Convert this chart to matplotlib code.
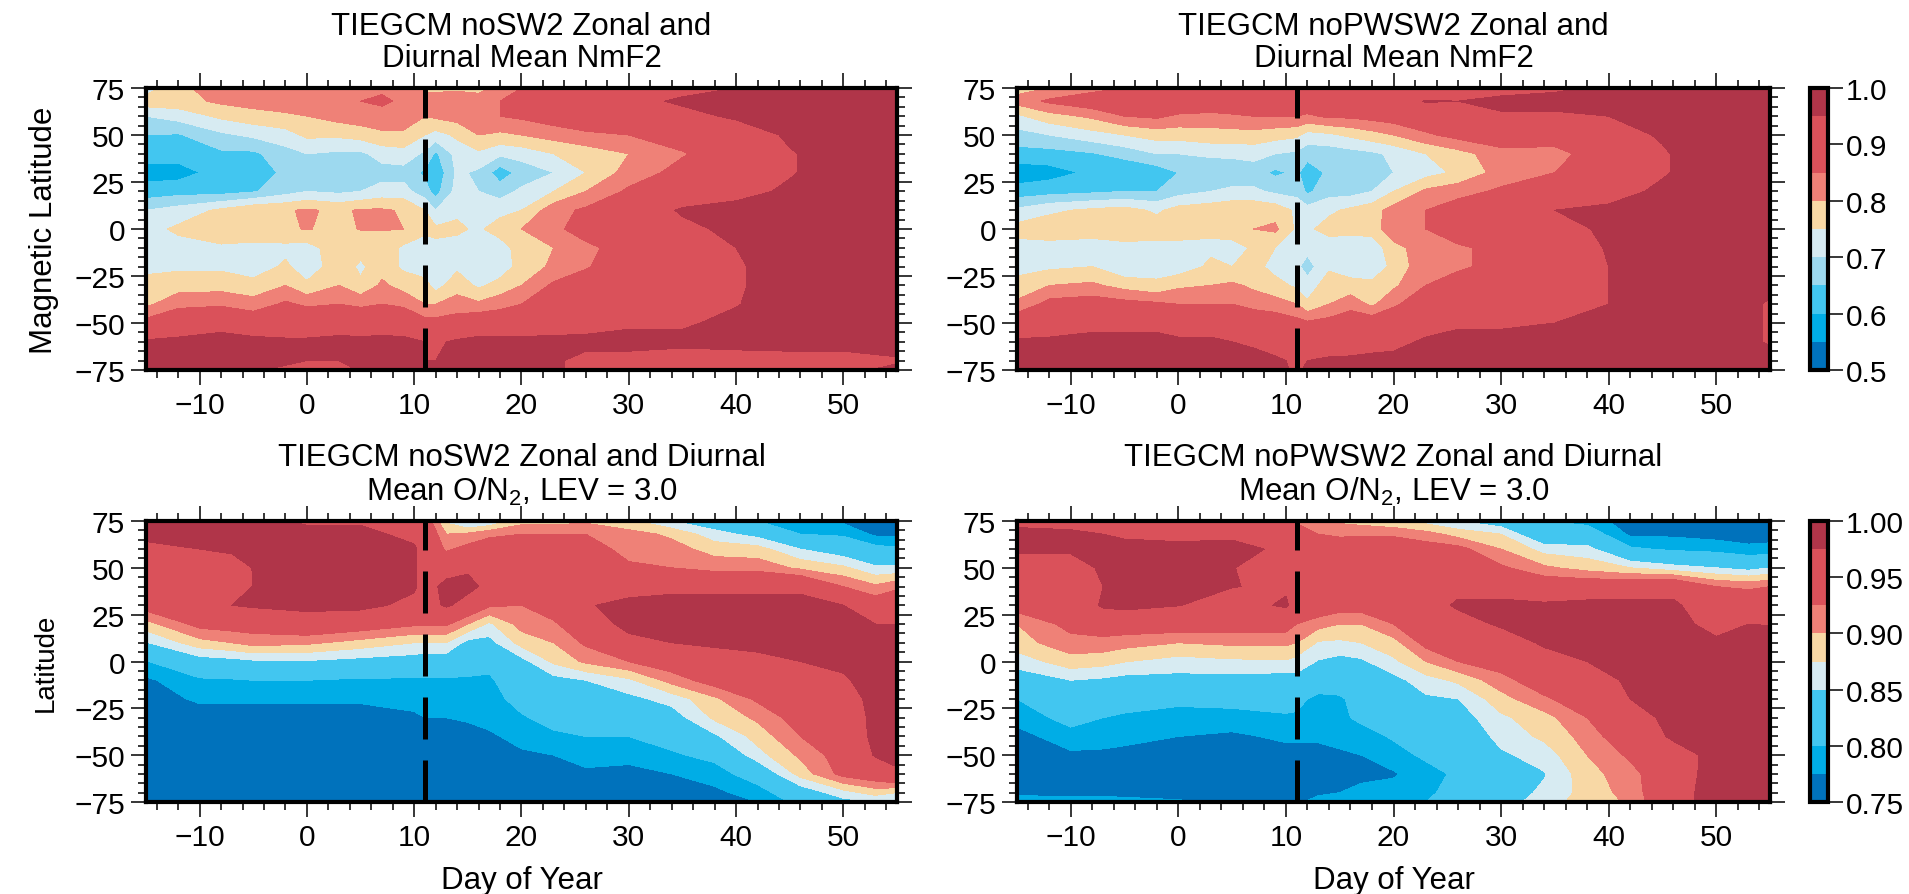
import numpy as np
import matplotlib
matplotlib.use('Agg')
import matplotlib.pyplot as plt
from matplotlib.ticker import MultipleLocator

plt.rcParams['font.family'] = ['Liberation Sans', 'DejaVu Sans']
plt.rcParams['mathtext.default'] = 'regular'

W, H = 1909, 895

lats = [75, 68, 60, 50, 40, 30, 20, 10, 0, -10, -20, -30, -40, -50, -60, -70, -75]
top_days = [-15, -12, -8, -5, -2, 0, 3, 5, 7, 9, 11, 12, 14, 16, 18, 20, 23, 26, 30, 35, 40, 45, 50, 55]
bot_days = [-15, -10, -7, -5, 0, 5, 10, 11, 13, 15, 17, 20, 23, 26, 30, 34, 38, 42, 46, 50, 53, 55]

# one list per day, running from 75N down to 75S
nmf2_nosw2 = [
    [.72, .78, .70, .65, .62, .58, .62, .70, .73, .72, .735, .77, .79, .87, .96, .97, .97],
    [.79, .78, .72, .645, .62, .58, .63, .72, .76, .73, .74, .78, .83, .92, .96, .97, .97],
    [.82, .81, .76, .69, .64, .62, .63, .76, .79, .74, .74, .78, .84, .93, .97, .97, .97],
    [.82, .82, .78, .71, .64, .61, .645, .79, .795, .73, .72, .77, .82, .90, .97, .97, .96],
    [.83, .83, .79, .73, .68, .665, .68, .795, .795, .735, .76, .80, .86, .91, .96, .97, .93],
    [.84, .83, .80, .76, .70, .67, .70, .806, .802, .73, .72, .76, .84, .91, .96, .95, .92],
    [.85, .84, .82, .76, .69, .67, .69, .79, .79, .78, .78, .80, .85, .91, .97, .95, .91],
    [.85, .85, .83, .77, .69, .67, .70, .806, .802, .77, .74, .76, .84, .90, .97, .96, .96],
    [.84, .86, .83, .79, .72, .68, .72, .806, .802, .78, .78, .81, .85, .91, .97, .97, .97],
    [.82, .84, .83, .79, .73, .68, .72, .795, .80, .74, .74, .78, .84, .90, .97, .97, .97],
    [.79, .82, .80, .75, .69, .64, .67, .75, .76, .73, .72, .77, .80, .87, .95, .95, .96],
    [.79, .82, .81, .73, .64, .61, .63, .70, .76, .74, .72, .73, .80, .87, .94, .95, .96],
    [.79, .83, .82, .76, .72, .71, .72, .74, .76, .73, .74, .78, .82, .88, .96, .97, .97],
    [.78, .83, .84, .80, .74, .69, .70, .74, .74, .71, .71, .74, .81, .90, .97, .97, .97],
    [.82, .85, .85, .79, .71, .62, .68, .73, .78, .72, .72, .77, .83, .90, .97, .97, .97],
    [.85, .87, .86, .80, .72, .67, .71, .75, .80, .78, .77, .80, .85, .90, .97, .97, .97],
    [.87, .89, .88, .82, .75, .70, .75, .83, .84, .80, .81, .86, .88, .91, .97, .96, .96],
    [.90, .91, .89, .84, .77, .75, .80, .86, .87, .84, .845, .88, .89, .92, .97, .93, .93],
    [.92, .93, .92, .85, .80, .82, .86, .89, .90, .87, .89, .90, .91, .94, .97, .93, .93],
    [.93, .96, .93, .88, .845, .87, .89, .96, .93, .91, .91, .91, .92, .945, .96, .93, .93],
    [.95, .97, .96, .91, .89, .90, .93, .97, .97, .95, .945, .945, .948, .96, .965, .93, .93],
    [.97, .98, .97, .96, .945, .945, .96, .98, .98, .97, .97, .97, .97, .97, .97, .93, .93],
    [.98, .98, .98, .98, .98, .98, .98, .98, .98, .98, .98, .98, .98, .98, .97, .93, .94],
    [.98, .98, .98, .98, .98, .98, .98, .98, .98, .98, .98, .98, .98, .98, .97, .945, .96],
]

nmf2_nopwsw2 = [
    [.78, .82, .74, .68, .63, .57, .62, .71, .77, .73, .73, .77, .81, .90, .96, .97, .97],
    [.80, .86, .78, .70, .63, .58, .63, .74, .78, .73, .74, .80, .87, .92, .96, .97, .97],
    [.83, .89, .81, .73, .645, .61, .64, .76, .78, .72, .75, .81, .88, .93, .97, .97, .97],
    [.85, .90, .85, .75, .67, .60, .65, .77, .79, .73, .71, .78, .87, .93, .97, .97, .97],
    [.85, .90, .86, .77, .70, .62, .65, .74, .78, .73, .73, .76, .86, .93, .97, .97, .97],
    [.86, .91, .84, .77, .70, .65, .68, .77, .78, .73, .72, .79, .85, .92, .96, .97, .97],
    [.87, .91, .83, .78, .71, .66, .70, .78, .76, .74, .76, .80, .85, .92, .96, .97, .97],
    [.86, .91, .84, .78, .71, .67, .71, .79, .79, .72, .75, .81, .85, .91, .95, .97, .97],
    [.86, .91, .85, .78, .72, .67, .71, .79, .80, .76, .77, .79, .83, .90, .94, .97, .97],
    [.85, .90, .85, .77, .70, .64, .69, .78, .81, .75, .73, .77, .82, .89, .92, .96, .97],
    [.84, .90, .85, .76, .69, .66, .68, .74, .74, .71, .71, .74, .80, .87, .91, .94, .94],
    [.84, .90, .84, .73, .67, .62, .64, .72, .74, .715, .68, .72, .76, .86, .91, .95, .96],
    [.84, .90, .86, .74, .67, .66, .68, .74, .77, .72, .74, .78, .80, .87, .91, .96, .97],
    [.85, .90, .86, .76, .68, .66, .68, .76, .77, .71, .72, .77, .83, .89, .92, .96, .97],
    [.85, .90, .87, .78, .69, .67, .70, .78, .77, .72, .70, .77, .79, .89, .92, .97, .97],
    [.86, .91, .88, .80, .71, .70, .75, .82, .84, .78, .77, .79, .84, .90, .93, .97, .97],
    [.88, .955, .90, .84, .75, .73, .81, .85, .85, .83, .83, .85, .89, .92, .96, .97, .97],
    [.90, .95, .92, .87, .78, .76, .83, .88, .89, .84, .84, .88, .91, .945, .96, .97, .97],
    [.92, .97, .94, .89, .83, .82, .86, .90, .90, .87, .87, .90, .92, .94, .97, .97, .97],
    [.94, .97, .94, .90, .82, .85, .89, .95, .92, .91, .91, .91, .92, .95, .97, .97, .97],
    [.96, .97, .95, .93, .91, .91, .93, .96, .965, .955, .95, .95, .95, .96, .97, .97, .97],
    [.97, .98, .97, .955, .945, .945, .96, .97, .97, .97, .97, .97, .97, .97, .97, .97, .97],
    [.98, .98, .98, .98, .98, .98, .98, .98, .98, .98, .98, .98, .98, .98, .98, .98, .98],
    [.98, .98, .98, .98, .98, .98, .98, .98, .98, .98, .98, .96, .945, .945, .945, .97, .98],
]

on2_nosw2 = [
    [.985, .98, .97, .95, .95, .94, .89, .848, .798, .77, .76, .76, .76, .76, .76, .76, .76],
    [.985, .98, .975, .96, .955, .945, .935, .89, .835, .795, .78, .76, .76, .76, .76, .76, .76],
    [.985, .98, .98, .96, .955, .975, .94, .90, .84, .797, .78, .76, .76, .76, .76, .76, .76],
    [.985, .98, .985, .976, .976, .98, .94, .91, .845, .80, .78, .76, .76, .76, .76, .76, .76],
    [.97, .985, .985, .985, .985, .985, .955, .905, .847, .80, .78, .76, .76, .76, .76, .76, .76],
    [.97, .985, .985, .985, .985, .985, .945, .89, .84, .795, .78, .76, .76, .76, .76, .76, .76],
    [.96, .965, .98, .98, .98, .965, .93, .875, .835, .795, .785, .77, .76, .76, .76, .76, .76],
    [.95, .96, .96, .96, .96, .96, .93, .875, .83, .795, .785, .775, .76, .76, .76, .76, .76],
    [.87, .90, .92, .96, .985, .98, .93, .875, .83, .795, .785, .775, .76, .76, .76, .76, .76],
    [.84, .905, .935, .97, .985, .96, .90, .84, .82, .795, .787, .78, .76, .76, .76, .76, .76],
    [.85, .92, .94, .955, .965, .93, .87, .84, .81, .795, .79, .785, .77, .76, .76, .76, .76],
    [.89, .925, .94, .95, .96, .925, .91, .885, .84, .825, .81, .797, .785, .77, .76, .76, .76],
    [.89, .925, .94, .95, .95, .945, .92, .90, .88, .84, .825, .81, .795, .775, .765, .76, .76],
    [.895, .925, .94, .95, .96, .972, .955, .93, .905, .85, .83, .82, .80, .785, .77, .76, .76],
    [.88, .91, .915, .93, .96, .985, .985, .965, .925, .87, .842, .82, .80, .78, .77, .76, .76],
    [.85, .895, .91, .925, .968, .985, .985, .975, .945, .91, .86, .835, .815, .795, .775, .76, .76],
    [.83, .86, .89, .915, .968, .985, .985, .98, .96, .94, .895, .88, .845, .81, .785, .77, .76],
    [.80, .84, .885, .915, .968, .985, .985, .985, .965, .95, .93, .905, .885, .865, .82, .785, .775],
    [.785, .80, .85, .895, .968, .985, .985, .985, .975, .965, .95, .94, .925, .905, .885, .83, .81],
    [.77, .795, .83, .88, .925, .975, .98, .985, .98, .972, .96, .95, .945, .94, .935, .865, .84],
    [.76, .77, .81, .855, .905, .945, .975, .985, .985, .985, .985, .985, .985, .978, .95, .885, .85],
    [.76, .77, .805, .855, .92, .95, .975, .985, .985, .985, .985, .985, .985, .98, .972, .875, .85],
]

on2_nopwsw2 = [
    [.97, .98, .98, .96, .95, .94, .90, .89, .86, .835, .80, .785, .765, .76, .76, .77, .785],
    [.965, .98, .98, .96, .95, .945, .935, .915, .89, .85, .825, .81, .79, .77, .76, .765, .79],
    [.96, .975, .985, .98, .975, .98, .945, .915, .885, .845, .82, .80, .785, .77, .76, .765, .79],
    [.96, .97, .985, .985, .985, .985, .945, .91, .876, .84, .815, .795, .78, .77, .76, .765, .785],
    [.95, .965, .985, .985, .985, .976, .945, .90, .865, .84, .81, .785, .775, .765, .76, .76, .78],
    [.94, .965, .99, .976, .976, .96, .94, .905, .87, .84, .81, .79, .77, .765, .76, .76, .77],
    [.93, .95, .965, .96, .97, .98, .94, .905, .872, .835, .81, .797, .78, .765, .76, .76, .77],
    [.92, .945, .96, .96, .965, .96, .925, .90, .865, .84, .81, .795, .78, .765, .76, .76, .77],
    [.895, .925, .945, .96, .96, .95, .91, .872, .848, .825, .79, .785, .78, .765, .76, .77, .785],
    [.895, .92, .945, .96, .96, .94, .90, .87, .84, .82, .795, .795, .785, .77, .765, .775, .785],
    [.89, .92, .95, .96, .96, .94, .90, .875, .845, .83, .815, .805, .79, .775, .77, .78, .79],
    [.88, .92, .95, .96, .96, .95, .925, .89, .87, .84, .825, .81, .803, .79, .772, .785, .79],
    [.865, .91, .94, .955, .96, .96, .945, .935, .90, .865, .845, .83, .815, .805, .79, .795, .80],
    [.85, .89, .935, .955, .965, .98, .96, .94, .925, .88, .85, .835, .82, .81, .805, .81, .81],
    [.83, .875, .90, .93, .965, .98, .98, .955, .94, .915, .89, .87, .86, .845, .84, .835, .83],
    [.80, .815, .865, .905, .95, .98, .98, .98, .96, .945, .92, .89, .88, .862, .848, .855, .87],
    [.79, .82, .86, .89, .95, .985, .98, .98, .975, .96, .945, .925, .91, .90, .89, .885, .88],
    [.76, .77, .805, .875, .955, .985, .98, .985, .985, .98, .975, .96, .95, .93, .915, .91, .905],
    [.76, .77, .795, .86, .965, .98, .985, .985, .985, .985, .985, .985, .98, .96, .955, .96, .96],
    [.76, .765, .79, .85, .925, .955, .965, .98, .985, .985, .985, .985, .985, .985, .99, .99, .99],
    [.76, .765, .78, .84, .92, .95, .975, .985, .985, .985, .985, .985, .985, .985, .985, .985, .985],
    [.76, .768, .78, .85, .925, .95, .974, .985, .985, .985, .985, .985, .985, .985, .985, .985, .985],
]

dark_blue, cyan, sky, light_blue, pale = '#0072BC', '#00ADE6', '#42C6F0', '#9DD9EF', '#D7EBF2'
tan, salmon, red, dark_red = '#F8D8A5', '#EF8177', '#DA515A', '#B03549'

top_levels = [.5, .55, .6, .65, .7, .75, .8, .85, .95, 1.0]
top_colors = [dark_blue, cyan, sky, light_blue, pale, tan, salmon, red, dark_red]
bot_levels = [.75, .775, .8, .85, .875, .9, .925, .975, 1.0]
bot_colors = [dark_blue, cyan, sky, pale, tan, salmon, red, dark_red]

TICK_FS = 21.5
TITLE_FS = 22.5


def px_axes(fig, x0, x1, y0, y1):
    return fig.add_axes([x0/W, 1-y1/H, (x1-x0)/W, (y1-y0)/H])


def panel(fig, box, days, data, levels, colors, title, ylabel=None, ylabel_fs=20, xlabel=None):
    ax = px_axes(fig, *box)
    z = np.array(data).T[::-1]
    cf = ax.contourf(days, lats[::-1], z, levels=levels, colors=colors)
    ax.plot([11, 11], [-75, 75], color='k', lw=3.6, ls=(0, (8.4, 4.2)))
    ax.set_xlim(-15, 55)
    ax.set_ylim(-75, 75)
    ax.xaxis.set_major_locator(MultipleLocator(10))
    ax.xaxis.set_minor_locator(MultipleLocator(2))
    ax.yaxis.set_major_locator(MultipleLocator(25))
    ax.yaxis.set_minor_locator(MultipleLocator(5))
    ax.tick_params(which='major', direction='out', length=11, width=1.1, top=True, right=True, labelsize=TICK_FS, pad=4)
    ax.tick_params(which='minor', direction='out', length=5.5, width=1.1, top=True, right=True)
    for s in ax.spines.values():
        s.set_linewidth(3)
    ax.set_title(title, fontsize=TITLE_FS, pad=15.5, linespacing=1.1)
    if ylabel:
        ax.set_ylabel(ylabel, fontsize=ylabel_fs, labelpad=11)
    if xlabel:
        ax.set_xlabel(xlabel, fontsize=22.5, labelpad=10)
    return cf


def colorbar(fig, cf, box, ticks, fmt):
    cax = px_axes(fig, *box)
    cb = fig.colorbar(cf, cax=cax, ticks=ticks, format=fmt, spacing='proportional')
    cb.outline.set_linewidth(3)
    cb.ax.tick_params(length=11, width=1.1, labelsize=TICK_FS, pad=2)
    return cb


fig = plt.figure(figsize=(W/100, H/100), dpi=100)

cf_a = panel(fig, (146, 897, 89, 371), top_days, nmf2_nosw2, top_levels, top_colors,
             'TIEGCM noSW2 Zonal and\nDiurnal Mean NmF2', ylabel='Magnetic Latitude', ylabel_fs=22.5)
cf_b = panel(fig, (1017, 1770, 89, 371), top_days, nmf2_nopwsw2, top_levels, top_colors,
             'TIEGCM noPWSW2 Zonal and\nDiurnal Mean NmF2')
cf_c = panel(fig, (146, 897, 522, 803), bot_days, on2_nosw2, bot_levels, bot_colors,
             'TIEGCM noSW2 Zonal and Diurnal\nMean O/N$_2$, LEV = 3.0', ylabel='Latitude', xlabel='Day of Year')
cf_d = panel(fig, (1017, 1770, 522, 803), bot_days, on2_nopwsw2, bot_levels, bot_colors,
             'TIEGCM noPWSW2 Zonal and Diurnal\nMean O/N$_2$, LEV = 3.0', xlabel='Day of Year')

colorbar(fig, cf_b, (1810, 1828, 89, 371), [.5, .6, .7, .8, .9, 1.0], '%.1f')
colorbar(fig, cf_d, (1810, 1828, 522, 803), [.75, .8, .85, .9, .95, 1.0], '%.2f')

fig.savefig('out.png', dpi=100)
